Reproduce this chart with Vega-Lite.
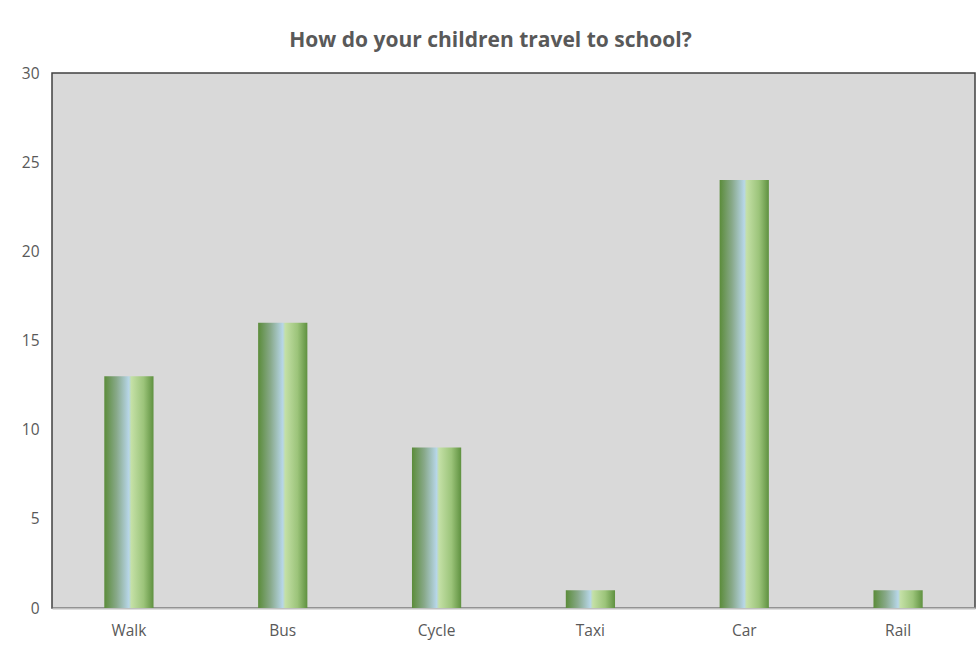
{
  "$schema": "https://vega.github.io/schema/vega-lite/v6.json",
  "width": 923,
  "height": 535,
  "autosize": {"type": "none"},
  "padding": {"left": 52, "top": 73, "right": 1, "bottom": 38},
  "background": "white",
  "title": {
    "text": "How do your children travel to school?",
    "fontSize": 21,
    "font": "Open Sans",
    "fontWeight": "bold",
    "color": "#595959",
    "anchor": "middle",
    "dx": -23,
    "offset": 15
  },
  "config": {
    "view": {"fill": "#d9d9d9", "stroke": "#404040", "strokeWidth": 1.5},
    "axis": {"labelFont": "Open Sans", "labelFontSize": 15.5, "labelColor": "#595959", "ticks": false, "grid": false, "title": null}
  },
  "data": {
    "values": [
      {"mode": "Walk", "count": 13},
      {"mode": "Bus", "count": 16},
      {"mode": "Cycle", "count": 9},
      {"mode": "Taxi", "count": 1},
      {"mode": "Car", "count": 24},
      {"mode": "Rail", "count": 1}
    ]
  },
  "mark": {
    "type": "bar",
    "fill": {
      "gradient": "linear",
      "x1": 0, "x2": 1, "y1": 0, "y2": 0,
      "stops": [
        {"offset": 0, "color": "#5b8c3a"},
        {"offset": 0.25, "color": "#88a98a"},
        {"offset": 0.5, "color": "#b7d6e8"},
        {"offset": 0.55, "color": "#c4e0a6"},
        {"offset": 0.8, "color": "#9cc47a"},
        {"offset": 1, "color": "#5f9140"}
      ]
    }
  },
  "encoding": {
    "x": {
      "field": "mode",
      "type": "nominal",
      "sort": null,
      "scale": {"paddingInner": 0.68, "paddingOuter": 0.34},
      "axis": {"labelAngle": 0, "labelPadding": 15, "domainColor": "#bfbfbf", "domainWidth": 2}
    },
    "y": {
      "field": "count",
      "type": "quantitative",
      "scale": {"domain": [0, 30]},
      "axis": {"values": [0, 5, 10, 15, 20, 25, 30], "domain": false, "labelPadding": 13}
    }
  }
}
